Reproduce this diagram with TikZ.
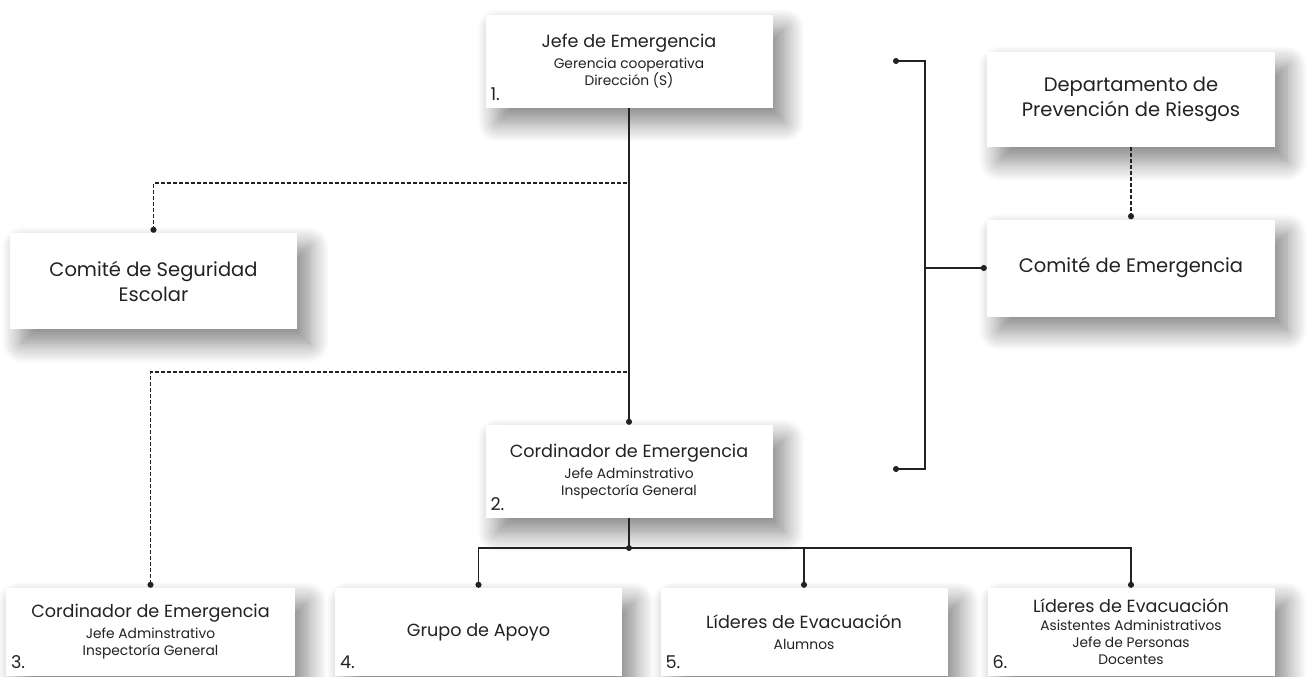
\documentclass[tikz,border=0pt]{standalone}
\usepackage{fontspec}
\setmainfont{Poppins}
\usetikzlibrary{arrows.meta,shadows.blur}
\definecolor{tinta}{HTML}{222222}
\newcommand{\titulo}[1]{{\fontsize{17.6}{21}\selectfont #1}\\[4pt]}
\tikzset{
  caja/.style={fill=white, minimum width=287pt, minimum height=93pt, align=center, text=tinta,
    font=\fontsize{13.8}{17}\selectfont,
    blur shadow={shadow xshift=12pt, shadow yshift=-14pt, shadow blur radius=20pt, shadow blur steps=20, shadow opacity=50}},
  cajagrande/.style={caja, font=\fontsize{19.5}{25}\selectfont},
  num/.style={anchor=south west, xshift=4pt, yshift=6pt, font=\fontsize{17.6}{20}\selectfont, text=tinta, inner sep=1pt},
  enlace/.style={draw=tinta, line width=1.3pt, -{Circle[length=6pt]}},
  discontinuo/.style={enlace, line width=1.1pt, dash pattern=on 4pt off 2pt},
}
\begin{document}
\begin{tikzpicture}[x=1pt, y=1pt]
\useasboundingbox (0,0) rectangle (1309,-677);
\node[caja, label={[num]south west:1.}] (jefe) at (629,-61.5) {\titulo{Jefe de Emergencia} Gerencia cooperativa\\ Dirección (S)};
\node[cajagrande, minimum width=288pt, minimum height=95pt] (depto) at (1131,-99.5) {Departamento de\\ Prevención de Riesgos};
\node[cajagrande, minimum width=288pt, minimum height=97pt] (comite) at (1131,-268) {Comité de Emergencia};
\node[cajagrande, minimum height=96pt] (seguridad) at (153.5,-281) {Comité de Seguridad\\ Escolar};
\node[caja, label={[num]south west:2.}] (coord) at (629,-471.5) {\titulo{Cordinador de Emergencia} Jefe Adminstrativo\\ Inspectoría General};
\node[caja, minimum width=289pt, minimum height=88pt, label={[num]south west:3.}] (c3) at (150.5,-632) {\titulo{Cordinador de Emergencia} Jefe Adminstrativo\\ Inspectoría General};
\node[caja, minimum height=88pt, label={[num]south west:4.}] (c4) at (478.5,-632) {{\fontsize{17.6}{21}\selectfont Grupo de Apoyo}};
\node[caja, minimum height=88pt, label={[num]south west:5.}] (c5) at (804,-632) {\titulo{Líderes de Evacuación} Alumnos};
\node[caja, minimum height=88pt, label={[num]south west:6.}] (c6) at (1131,-632) {{\fontsize{17.6}{21}\selectfont Líderes de Evacuación}\\[1pt] Asistentes Administrativos\\ Jefe de Personas\\ Docentes};

\coordinate (ramaA) at (627,-183);
\coordinate (ramaB) at (627,-372);
\coordinate (bus) at (629,-548);
\coordinate (llaveA) at (893,-61);
\coordinate (llaveM) at (925,-268);
\coordinate (llaveB) at (893,-469);

\draw[enlace] (jefe.south) -- (coord.north);
\draw[discontinuo] (ramaA) -| (seguridad.north);
\draw[discontinuo] (ramaB) -| (c3.north);
\draw[discontinuo] (depto.south) -- (comite.north);
\draw[draw=tinta, line width=1.3pt] (coord.south) -- (bus);
\fill[tinta] (bus) circle (3pt);
\foreach \c in {c4,c5,c6}
  \draw[enlace] (bus) -| (\c.north);
\draw[enlace, {Circle[length=6pt]}-{Circle[length=6pt]}] (llaveA) -| (llaveM) |- (llaveB);
\draw[enlace] (llaveM) -- (comite.west);
\end{tikzpicture}
\end{document}
